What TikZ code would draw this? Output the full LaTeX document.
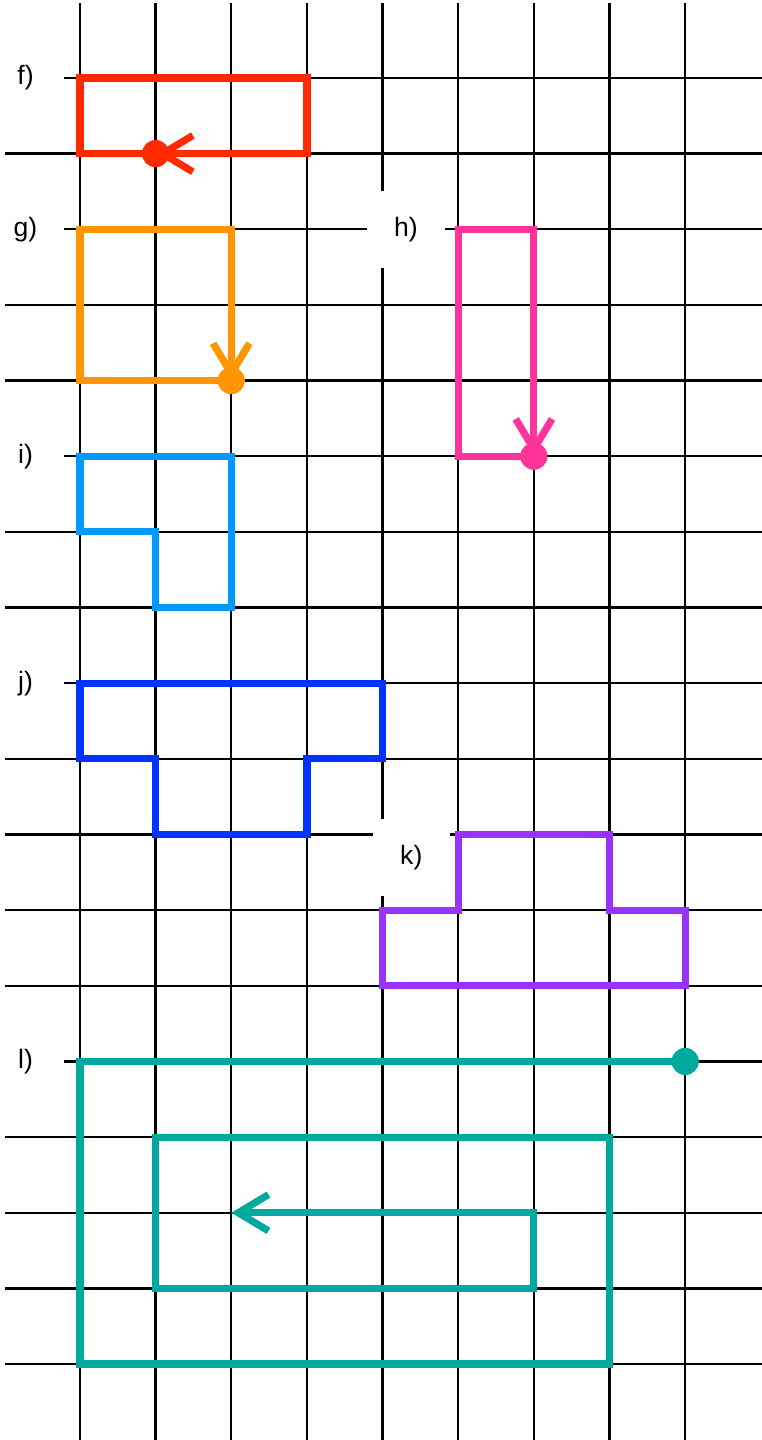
\documentclass[tikz,border=0pt]{standalone}
\usepackage{fontspec}
\setmainfont{Liberation Sans}
\usepackage{tikz}
\usetikzlibrary{arrows.meta}
\definecolor{yolKirmizi}{HTML}{FF2A00}
\definecolor{yolTuruncu}{HTML}{FF9500}
\definecolor{yolPembe}{HTML}{FF3399}
\definecolor{yolAcikMavi}{HTML}{0099FF}
\definecolor{yolMavi}{HTML}{0033FF}
\definecolor{yolMor}{HTML}{9933FF}
\definecolor{yolTurkuaz}{HTML}{00A99D}
\begin{document}
\begin{tikzpicture}[
  izgara/.style={line width=0.9pt},
  yol/.style={line width=2.7pt},
  ok/.style={-{Straight Barb[length=0.4cm,width=0.48cm,sharp]}},
  etiket/.style={fill=white,minimum size=1.02cm,inner sep=0pt,font=\fontsize{10}{12}\selectfont}]
\useasboundingbox (-1.057,1.031) rectangle (9.015,-18.004);
\foreach \y in {0,...,17} \draw[izgara] (-0.99,-\y)--(9.1,-\y);
\foreach \x in {0,...,8} \draw[izgara] (\x,0.99)--(\x,-18.1);
\node[etiket] (f) at (-0.72,0) {f)};
\node[etiket] (g) at (-0.72,-2) {g)};
\node[etiket] (h) at (4.31,-2) {h)};
\node[etiket] (i) at (-0.72,-5) {i)};
\node[etiket] (j) at (-0.72,-8) {j)};
\node[etiket] (k) at (4.38,-10.3) {k)};
\node[etiket] (l) at (-0.72,-13) {l)};
\draw[yolKirmizi,yol,ok] (1,-1)--(0,-1)--(0,0)--(3,0)--(3,-1)--(1,-1);
\fill[yolKirmizi] (1,-1) circle (0.18);
\draw[yolTuruncu,yol,ok] (2,-4)--(0,-4)--(0,-2)--(2,-2)--(2,-4);
\fill[yolTuruncu] (2,-4) circle (0.18);
\draw[yolPembe,yol,ok] (6,-5)--(5,-5)--(5,-2)--(6,-2)--(6,-5);
\fill[yolPembe] (6,-5) circle (0.18);
\draw[yolAcikMavi,yol] (0,-5)--(2,-5)--(2,-7)--(1,-7)--(1,-6)--(0,-6)--cycle;
\draw[yolMavi,yol] (0,-8)--(4,-8)--(4,-9)--(3,-9)--(3,-10)--(1,-10)--(1,-9)--(0,-9)--cycle;
\draw[yolMor,yol] (5,-10)--(7,-10)--(7,-11)--(8,-11)--(8,-12)--(4,-12)--(4,-11)--(5,-11)--cycle;
\draw[yolTurkuaz,yol,ok] (8,-13)--(0,-13)--(0,-17)--(7,-17)--(7,-14)--(1,-14)--(1,-16)--(6,-16)--(6,-15)--(2,-15);
\fill[yolTurkuaz] (8,-13) circle (0.18);
\end{tikzpicture}
\end{document}
